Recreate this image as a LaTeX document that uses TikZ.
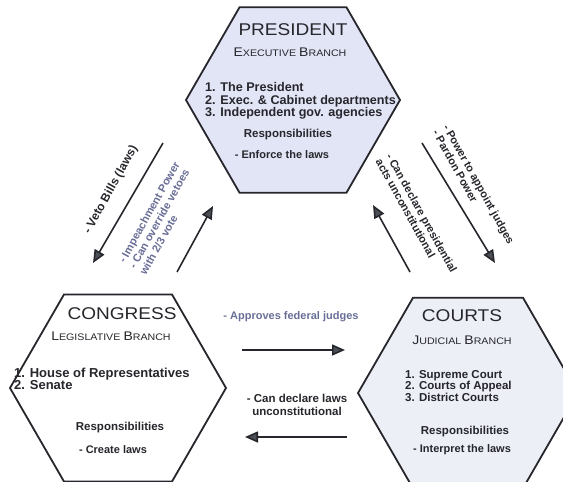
\documentclass[tikz,border=0pt]{standalone}
\usepackage{fontspec}
\setmainfont{Liberation Sans}
\newfontfamily\wideface[FakeStretch=1.12]{Liberation Sans}
\usetikzlibrary{shapes.geometric,arrows.meta}
\definecolor{ink}{RGB}{38,38,44}
\definecolor{faded}{RGB}{105,110,150}
\definecolor{presfill}{RGB}{226,229,246}
\definecolor{courtfill}{RGB}{237,239,247}
\definecolor{tipgray}{RGB}{75,80,86}
\newcommand{\brsc}[2]{{\fontsize{12.5}{13}\selectfont #1}{\fontsize{9.5}{13}\selectfont #2}}

\begin{document}
\begin{tikzpicture}[x=1pt,y=-1pt]
      \useasboundingbox (0,0) rectangle (563,482);

      \begin{scope}[every node/.style={regular polygon,regular polygon sides=6,draw=ink,line width=1.8pt,inner sep=0pt}]
        \node[fill=presfill, minimum size=214pt]  (pres)  at (293,100) {};
        \node[fill=white, minimum size=216pt]     (cong)  at (118,388) {};
        \node[fill=courtfill, minimum size=220pt] (court) at (468,393) {};
      \end{scope}

      \begin{scope}[every node/.style={text=ink, inner sep=0pt, font=\bfseries\fontsize{11.5}{12.5}\selectfont}]
        % president
        \node[font=\wideface\fontsize{17}{17}\selectfont] (presT) at (293,30) {PRESIDENT};
        \node[font=\wideface] (presS) at (290,52) {\brsc{E}{XECUTIVE} \brsc{B}{RANCH}};
        \node[anchor=west, align=left, font=\bfseries\fontsize{12.6}{12.5}\selectfont] (presL) at (205,101)
          {1. The President\\2. Exec. \& Cabinet departments\\3. Independent gov. agencies};
        \node (presR) at (288,135) {Responsibilities};
        \node[font=\bfseries\fontsize{11}{11}\selectfont] (presD) at (282,155) {- Enforce the laws};
        % congress
        \node[font=\wideface\fontsize{17}{17}\selectfont] (congT) at (122,314) {CONGRESS};
        \node[font=\wideface] (congS) at (111,336) {\brsc{L}{EGISLATIVE} \brsc{B}{RANCH}};
        \node[anchor=west, align=left, font=\bfseries\fontsize{13}{12.5}\selectfont] (congL) at (14,379)
          {1. House of Representatives\\2. Senate};
        \node (congR) at (120,428) {Responsibilities};
        \node[font=\bfseries\fontsize{11}{11}\selectfont] (congD) at (113,450) {- Create laws};
        % courts
        \node[font=\wideface\fontsize{17}{17}\selectfont] (courtT) at (462,316) {COURTS};
        \node[font=\wideface] (courtS) at (462,340) {\brsc{J}{UDICIAL} \brsc{B}{RANCH}};
        \node[anchor=west, align=left, font=\bfseries\fontsize{11.5}{11.5}\selectfont] (courtL) at (405,386)
          {1. Supreme Court\\2. Courts of Appeal\\3. District Courts};
        \node (courtR) at (465,432) {Responsibilities};
        \node[font=\bfseries\fontsize{11}{11}\selectfont] (courtD) at (462,450) {- Interpret the laws};
      \end{scope}

      % arrow ends
      \coordinate (v1) at (163,143);
      \coordinate (v2) at (93,263);
      \coordinate (i1) at (177,272);
      \coordinate (i2) at (213,206);
      \coordinate (a1) at (410,272);
      \coordinate (a2) at (373,205);
      \coordinate (j1) at (422,143);
      \coordinate (j2) at (495,263);
      \coordinate (f1) at (242,350);
      \coordinate (f2) at (345,350);
      \coordinate (u1) at (347,437);
      \coordinate (u2) at (245,437);

      \begin{scope}[every edge/.style={draw=ink, line width=1.6pt, -{Triangle[length=13pt,width=11pt,fill=tipgray]}}]
        \path (v1) edge (v2);
        \path (i1) edge (i2);
        \path (a1) edge (a2);
        \path (j1) edge (j2);
        \path (f1) edge (f2);
        \path (u1) edge (u2);
      \end{scope}

      \begin{scope}[every node/.style={text=ink, inner sep=0pt, font=\bfseries\fontsize{11}{12}\selectfont}]
        \node[rotate=61, font=\bfseries\fontsize{12}{12}\selectfont] (vetoL) at (111,190) {- Veto Bills (laws)};
        \node[rotate=61, anchor=west, align=left, text=faded] (impL) at (132,268)
          {- Impeachment Power\\- Can override vetoes\\with 2/3 vote};
        \node[rotate=-61, anchor=west, align=left] (apptL) at (441,128)
          {- Power to appoint judges\\- Pardon Power};
        \node[rotate=-61, anchor=west, align=left] (actsL) at (384,157)
          {- Can declare presidential\\acts unconstitutional};
        \node[text=faded] (fedL) at (291,317) {- Approves federal judges};
        \node[align=center, font=\bfseries\fontsize{11.5}{12.5}\selectfont] (lawsL) at (297,405)
          {- Can declare laws\\unconstitutional};
      \end{scope}

    \end{tikzpicture}
\end{document}
